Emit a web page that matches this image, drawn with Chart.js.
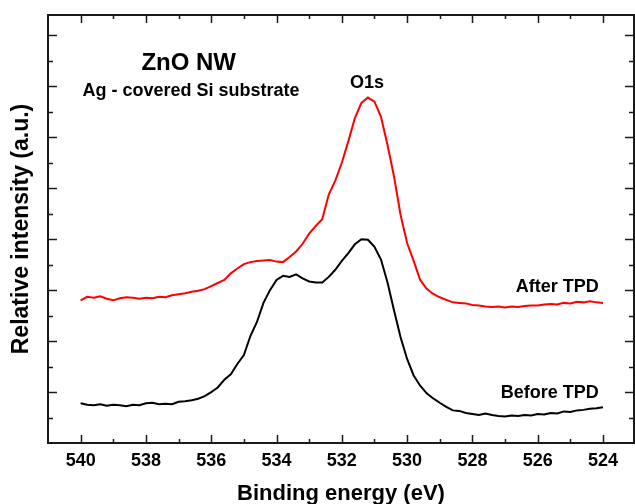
<!DOCTYPE html>
<html><head><meta charset="utf-8">
<script src="https://cdn.jsdelivr.net/npm/chart.js@4.4.1/dist/chart.umd.min.js"></script>
<style>html,body{margin:0;padding:0;background:#fff}#wrap{width:635px;height:504px}</style>
</head><body><div id="wrap"><canvas id="c" width="635" height="504"></canvas></div>
<script>
const bindingEnergy = [
 540.0,539.8,539.6,539.4,539.2,539.0,538.8,538.6,538.4,538.2,
 538.0,537.8,537.6,537.4,537.2,537.0,536.8,536.6,536.4,536.2,
 536.0,535.8,535.6,535.4,535.2,535.0,534.8,534.6,534.4,534.2,
 534.0,533.8,533.6,533.4,533.2,533.0,532.8,532.6,532.4,532.2,
 532.0,531.8,531.6,531.4,531.2,531.0,530.8,530.6,530.4,530.2,
 530.0,529.8,529.6,529.4,529.2,529.0,528.8,528.6,528.4,528.2,
 528.0,527.8,527.6,527.4,527.2,527.0,526.8,526.6,526.4,526.2,
 526.0,525.8,525.6,525.4,525.2,525.0,524.8,524.6,524.4,524.2,
 524.0];
const afterTPD = [
 5.60,5.74,5.70,5.76,5.66,5.60,5.68,5.72,5.70,5.66,
 5.70,5.68,5.74,5.72,5.80,5.84,5.88,5.94,5.98,6.04,
 6.16,6.28,6.40,6.66,6.85,7.02,7.10,7.14,7.16,7.18,
 7.12,7.10,7.30,7.52,7.82,8.22,8.52,8.78,9.75,10.30,
 11.00,11.85,12.75,13.35,13.56,13.40,12.80,11.70,10.45,8.95,
 7.85,7.15,6.40,6.05,5.85,5.72,5.62,5.52,5.50,5.48,
 5.42,5.40,5.36,5.34,5.36,5.32,5.36,5.34,5.38,5.40,
 5.40,5.44,5.46,5.44,5.50,5.48,5.54,5.52,5.56,5.52,
 5.50];
const beforeTPD = [
 1.56,1.50,1.48,1.52,1.46,1.50,1.48,1.44,1.50,1.48,
 1.56,1.58,1.52,1.54,1.52,1.62,1.64,1.68,1.74,1.84,
 2.00,2.18,2.48,2.70,3.10,3.45,4.20,4.75,5.50,6.00,
 6.40,6.56,6.52,6.62,6.46,6.34,6.30,6.30,6.52,6.80,
 7.15,7.45,7.80,8.00,7.98,7.70,7.20,6.30,5.20,4.15,
 3.30,2.65,2.25,1.95,1.75,1.58,1.42,1.28,1.26,1.18,
 1.14,1.10,1.16,1.10,1.06,1.04,1.08,1.06,1.10,1.08,
 1.14,1.12,1.18,1.16,1.24,1.22,1.28,1.30,1.34,1.36,
 1.40];
const xTickLabels = [540,538,536,534,532,530,528,526,524];
const xMinorTicks = [539,537,535,533,531,529,527,525];
const yMajorTicks = [2,4,6,8,10,12,14,16];
const yMinorTicks = [1,3,5,7,9,11,13,15];
const seriesNames = ['After TPD','Before TPD'];
const annotationTexts = ['ZnO NW','Ag - covered Si substrate','O1s','After TPD','Before TPD'];

const FONT = '"Liberation Sans", Arial, sans-serif';
const annotationStyle = [
 {x:536.69, y:14.63, size:24, align:'center'},
 {x:536.62, y:13.61, size:18, align:'center'},
 {x:531.23, y:13.95, size:18, align:'center'},
 {x:524.13, y:5.93, size:18, align:'right'},
 {x:524.13, y:1.78, size:18, align:'right'}
];

const framePlugin = {
 id:'frameTicks',
 afterDatasetsDraw(chart){
  const {ctx, chartArea:a, scales:{x, y}} = chart;
  ctx.save();
  ctx.strokeStyle = '#1a1a1a';
  ctx.lineWidth = 2;
  ctx.strokeRect(a.left, a.top, a.right - a.left, a.bottom - a.top);
  ctx.lineWidth = 1.5;
  ctx.beginPath();
  const vt = (v, len) => {
   const p = Math.round(x.getPixelForValue(v)) + 0.5;
   ctx.moveTo(p, a.bottom); ctx.lineTo(p, a.bottom - len);
   ctx.moveTo(p, a.top); ctx.lineTo(p, a.top + len);
  };
  const ht = (v, len) => {
   const p = Math.round(y.getPixelForValue(v)) + 0.5;
   ctx.moveTo(a.left, p); ctx.lineTo(a.left + len, p);
   ctx.moveTo(a.right, p); ctx.lineTo(a.right - len, p);
  };
  xTickLabels.forEach(v => vt(v, 8));
  xMinorTicks.forEach(v => vt(v, 4));
  yMajorTicks.forEach(v => ht(v, 9));
  yMinorTicks.forEach(v => ht(v, 5));
  ctx.stroke();
  ctx.fillStyle = '#000';
  ctx.textBaseline = 'alphabetic';
  annotationTexts.forEach((t, i) => {
   const s = annotationStyle[i];
   ctx.font = 'bold ' + s.size + 'px ' + FONT;
   ctx.textAlign = s.align;
   ctx.fillText(t, x.getPixelForValue(s.x), y.getPixelForValue(s.y));
  });
  ctx.restore();
 }
};

new Chart(document.getElementById('c'), {
 type:'line',
 data:{datasets:[
  {label:seriesNames[0], data:bindingEnergy.map((e,i)=>({x:e, y:afterTPD[i]})), borderColor:'#ff0000', borderWidth:2, pointRadius:0, tension:0, fill:false},
  {label:seriesNames[1], data:bindingEnergy.map((e,i)=>({x:e, y:beforeTPD[i]})), borderColor:'#000000', borderWidth:2, pointRadius:0, tension:0, fill:false}
 ]},
 options:{
  responsive:false, animation:false, devicePixelRatio:1,
  layout:{padding:{top:15, right:1, left:0, bottom:0}},
  plugins:{legend:{display:false}, tooltip:{enabled:false}},
  scales:{
   x:{type:'linear', reverse:true, min:523.05, max:541.0,
      border:{display:false}, grid:{display:false, drawTicks:false},
      afterBuildTicks: s => { s.ticks = xTickLabels.map(v => ({value:v})); },
      afterFit: s => { s.height = 61; },
      ticks:{color:'#000', padding:7, maxRotation:0, autoSkip:false, font:{family:FONT, size:18, weight:'bold'}, callback:v=>String(v)},
      title:{display:true, text:'Binding energy (eV)', color:'#000', font:{family:FONT, size:22, weight:'bold', lineHeight:0.7}, padding:{top:0, bottom:2}}
   },
   y:{type:'linear', min:0, max:16.8,
      border:{display:false}, grid:{display:false, drawTicks:false},
      ticks:{display:false},
      afterFit: s => { s.width = 48; },
      title:{display:true, text:'Relative intensity (a.u.)', color:'#000', font:{family:FONT, size:23, weight:'bold', lineHeight:0.7}, padding:{top:14, bottom:0}}
   }
  }
 },
 plugins:[framePlugin]
});
</script>
</body></html>
